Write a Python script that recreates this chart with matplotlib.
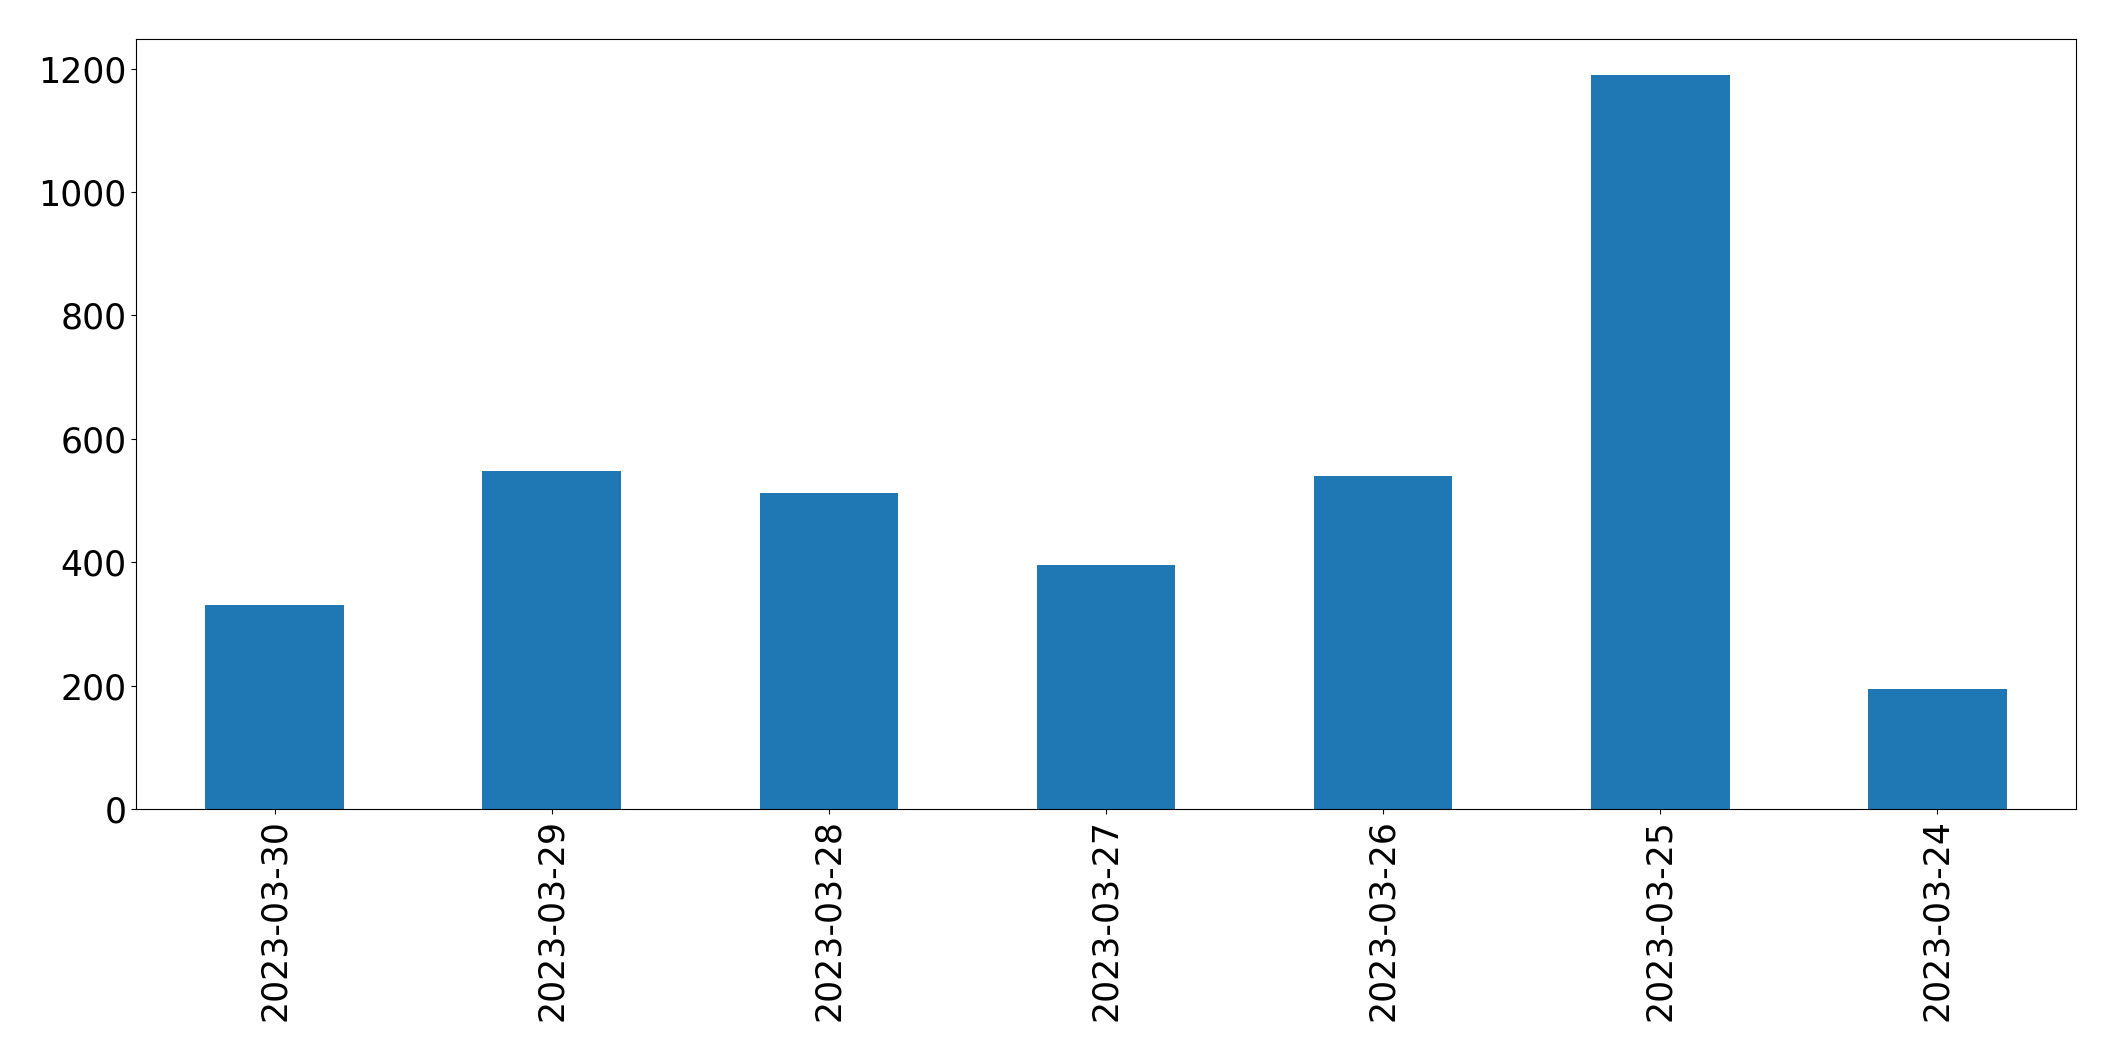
import matplotlib
matplotlib.use("Agg")
import matplotlib.pyplot as plt

dates = ["2023-03-30", "2023-03-29", "2023-03-28", "2023-03-27",
         "2023-03-26", "2023-03-25", "2023-03-24"]
counts = [331, 548, 512, 396, 540, 1189, 195]

fig = plt.figure(figsize=(21.15, 10.61), dpi=100)
ax = fig.add_axes([136 / 2115, 1 - 809 / 1061, (2076 - 136) / 2115, (809 - 39) / 1061])

positions = range(len(dates))
ax.bar(positions, counts, width=0.5, color="#1f77b4")
ax.set_xlim(-0.5, len(dates) - 0.5)
ax.set_ylim(0, 1248)
ax.set_yticks([0, 200, 400, 600, 800, 1000, 1200])
ax.set_xticks(list(positions))
ax.set_xticklabels(dates, rotation=90)
ax.tick_params(labelsize=25)

fig.savefig("out.png", dpi=100)
